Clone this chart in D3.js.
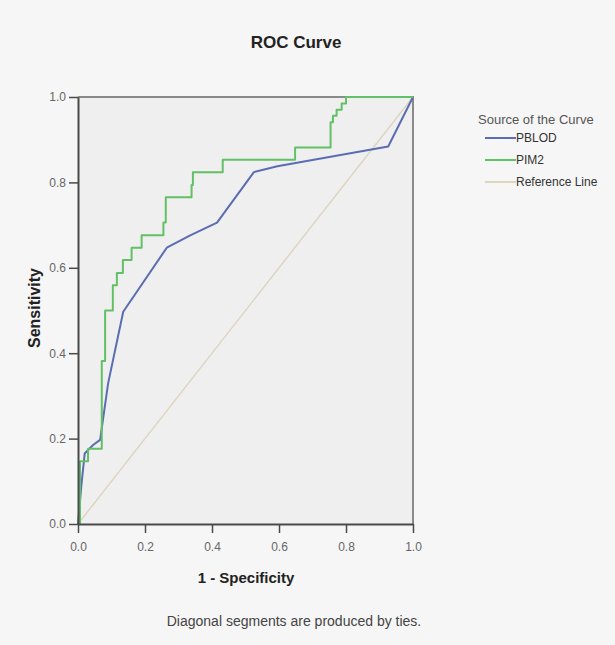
<!DOCTYPE html>
<html>
<head>
<meta charset="utf-8">
<script src="https://d3js.org/d3.v7.min.js"></script>
<style>
  body { margin: 0; background: #f6f6f6; }
  text { font-family: Arial, "Liberation Sans", sans-serif; }
</style>
</head>
<body>
<div id="chart"></div>
<script>

// PBLOD curve (1 - specificity, sensitivity)
var pblodFpr = [0, 0.01, 0.02, 0.045, 0.066, 0.09, 0.135, 0.265, 0.335, 0.415, 0.525, 0.595, 0.926, 1];
var pblodTpr = [0, 0.09, 0.165, 0.185, 0.197, 0.33, 0.497, 0.647, 0.676, 0.706, 0.824, 0.838, 0.884, 1];

// PIM2 curve (step shaped)
var pim2Fpr = [0, 0.006, 0.006, 0.03, 0.03, 0.071, 0.071, 0.081, 0.081, 0.104, 0.104, 0.116, 0.116, 0.134, 0.134,
               0.16, 0.16, 0.19, 0.19, 0.255, 0.255, 0.262, 0.262, 0.339, 0.339, 0.343, 0.343, 0.432, 0.432,
               0.648, 0.648, 0.754, 0.754, 0.761, 0.761, 0.772, 0.772, 0.787, 0.787, 0.8, 0.8, 1];
var pim2Tpr = [0, 0, 0.147, 0.147, 0.176, 0.176, 0.382, 0.382, 0.5, 0.5, 0.559, 0.559, 0.588, 0.588, 0.618,
               0.618, 0.647, 0.647, 0.676, 0.676, 0.706, 0.706, 0.765, 0.765, 0.794, 0.794, 0.824, 0.824, 0.853,
               0.853, 0.882, 0.882, 0.941, 0.941, 0.956, 0.956, 0.97, 0.97, 0.985, 0.985, 1, 1];

var refFpr = [0, 1];
var refTpr = [0, 1];

var tickValues = [0, 0.2, 0.4, 0.6, 0.8, 1.0];

var seriesNames = ["PBLOD", "PIM2", "Reference Line"];
var seriesColors = ["#5b6db2", "#62c066", "#ddd6bf"];

var margin = {top: 97, left: 78},
    width = 335,
    height = 427;

var x = d3.scaleLinear().domain([0, 1]).range([0, width]);
var y = d3.scaleLinear().domain([0, 1]).range([height, 0]);

var svg = d3.select("#chart").append("svg")
  .attr("width", 615)
  .attr("height", 645);

svg.append("rect")
  .attr("width", 615)
  .attr("height", 645)
  .attr("fill", "#f6f6f6");

// title
svg.append("text")
  .attr("x", 296)
  .attr("y", 48)
  .attr("text-anchor", "middle")
  .style("font-size", "17px")
  .style("font-weight", "bold")
  .attr("fill", "#222")
  .text("ROC Curve");

var g = svg.append("g")
  .attr("transform", "translate(" + margin.left + "," + margin.top + ")");

// plot background
g.append("rect")
  .attr("width", width)
  .attr("height", height)
  .attr("fill", "#efefef");

// top and right frame
g.append("path")
  .attr("d", "M0,0H" + width + "V" + height)
  .attr("fill", "none")
  .attr("stroke", "#8a8a8a")
  .attr("stroke-width", 2);

function makeLine(xs, ys) {
  return d3.line()
    .x(function(d, i) { return x(xs[i]); })
    .y(function(d, i) { return y(ys[i]); })(xs);
}

var seriesX = [pblodFpr, pim2Fpr, refFpr];
var seriesY = [pblodTpr, pim2Tpr, refTpr];

// draw reference line first, then the curves
[2, 0, 1].forEach(function(k) {
  g.append("path")
    .attr("d", makeLine(seriesX[k], seriesY[k]))
    .attr("fill", "none")
    .attr("stroke", seriesColors[k])
    .attr("stroke-width", k == 2 ? 1.5 : 2)
    .attr("stroke-linejoin", "round");
});

var xAxis = d3.axisBottom(x)
  .tickValues(tickValues)
  .tickSize(9)
  .tickSizeOuter(0)
  .tickFormat(d3.format(".1f"));
var yAxis = d3.axisLeft(y)
  .tickValues(tickValues)
  .tickSize(9)
  .tickSizeOuter(0)
  .tickFormat(d3.format(".1f"));

var gx = g.append("g")
  .attr("transform", "translate(0," + height + ")")
  .call(xAxis);
var gy = g.append("g")
  .call(yAxis);

[gx, gy].forEach(function(ax) {
  ax.select(".domain").attr("stroke", "#4a4a4a").attr("stroke-width", 2);
  ax.selectAll(".tick line").attr("stroke", "#4a4a4a").attr("stroke-width", 1.5);
  ax.selectAll(".tick text")
    .attr("fill", "#666")
    .style("font-size", "12px")
    .style("font-family", "Arial, 'Liberation Sans', sans-serif");
});
gx.selectAll(".tick text").attr("dy", "1.25em");
gy.selectAll(".tick text").attr("x", -12);

// axis labels
svg.append("text")
  .attr("x", 246)
  .attr("y", 583)
  .attr("text-anchor", "middle")
  .style("font-size", "15px")
  .style("font-weight", "bold")
  .attr("fill", "#222")
  .text("1 - Specificity");

svg.append("text")
  .attr("transform", "translate(40,308) rotate(-90)")
  .attr("text-anchor", "middle")
  .style("font-size", "16px")
  .style("font-weight", "bold")
  .attr("fill", "#222")
  .text("Sensitivity");

// footnote
svg.append("text")
  .attr("x", 294)
  .attr("y", 626)
  .attr("text-anchor", "middle")
  .style("font-size", "14px")
  .attr("fill", "#444")
  .text("Diagonal segments are produced by ties.");

// legend
var legend = svg.append("g")
  .attr("transform", "translate(478,124)");

legend.append("text")
  .attr("x", 0)
  .attr("y", 0)
  .style("font-size", "13px")
  .attr("fill", "#555")
  .text("Source of the Curve");

seriesNames.forEach(function(name, i) {
  var ly = 14 + i * 22;
  legend.append("line")
    .attr("x1", 7)
    .attr("x2", 38)
    .attr("y1", ly)
    .attr("y2", ly)
    .attr("stroke", seriesColors[i])
    .attr("stroke-width", 2);
  legend.append("text")
    .attr("x", 38)
    .attr("y", ly + 4)
    .style("font-size", "12px")
    .attr("fill", "#333")
    .text(name);
});

</script>
</body>
</html>
